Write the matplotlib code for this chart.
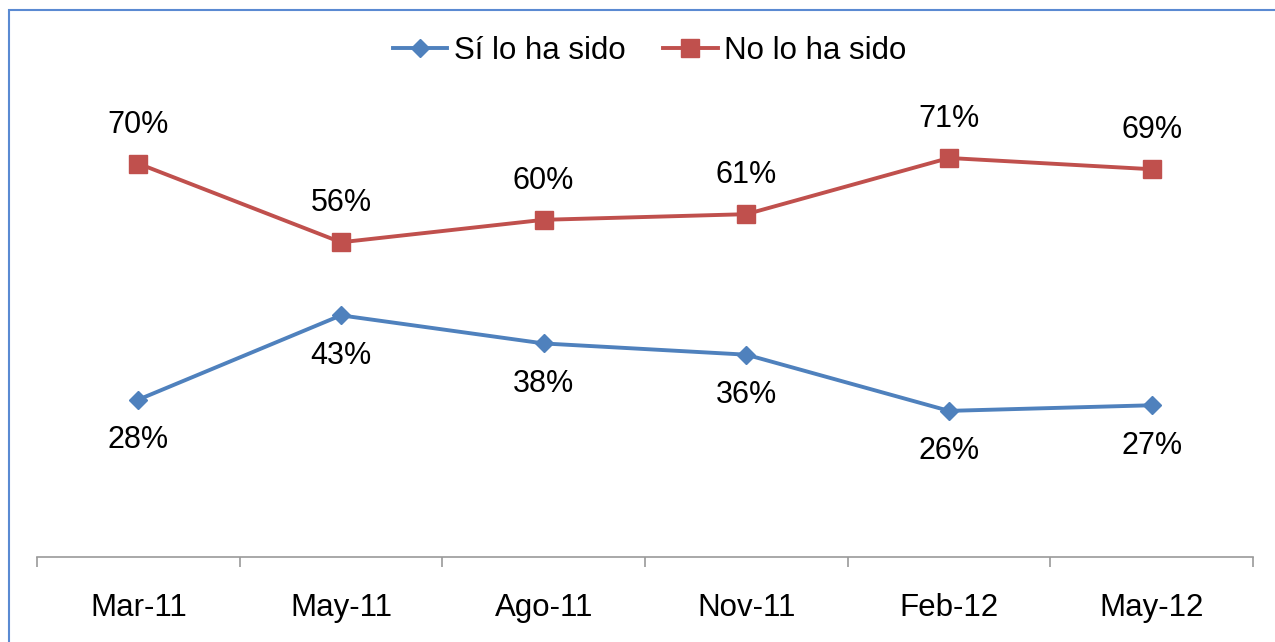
import matplotlib.pyplot as plt
from matplotlib.patches import Rectangle

plt.rcParams['font.family'] = ['Liberation Sans', 'DejaVu Sans']

periodos = ['Mar-11', 'May-11', 'Ago-11', 'Nov-11', 'Feb-12', 'May-12']
si_lo_ha_sido = [28, 43, 38, 36, 26, 27]
no_lo_ha_sido = [70, 56, 60, 61, 71, 69]

azul = '#4F81BD'
rojo = '#C0504D'

W, H = 1275, 642
fig = plt.figure(figsize=(W / 100, H / 100), dpi=100)
fig.patch.set_facecolor('white')

# blue frame around the chart (cut off at right and bottom)
fig.patches.append(Rectangle((9 / W, -0.1), 1.2, 1 - 10 / H + 0.1, transform=fig.transFigure,
                             fill=False, edgecolor='#5A8AD2', linewidth=1.5))

ax = fig.add_axes([37 / W, 85 / H, (1253 - 37) / W, (557 - 107.4) / H])
x = list(range(len(periodos)))

ax.plot(x, si_lo_ha_sido, color=azul, linewidth=2.8, marker='D', markersize=9.5,
        label='Sí lo ha sido')
ax.plot(x, no_lo_ha_sido, color=rojo, linewidth=2.8, marker='s', markersize=13,
        label='No lo ha sido')

fs = 22
for i in x:
    ax.annotate(f'{si_lo_ha_sido[i]}%', (i, si_lo_ha_sido[i]), xytext=(0, -29),
                textcoords='offset points', ha='center', va='center', fontsize=fs)
    ax.annotate(f'{no_lo_ha_sido[i]}%', (i, no_lo_ha_sido[i]), xytext=(0, 28),
                textcoords='offset points', ha='center', va='center', fontsize=fs)

ax.set_xlim(-0.5, len(periodos) - 0.5)
ax.set_ylim(0, 80)
ax.set_yticks([])
for s in ['top', 'right', 'left']:
    ax.spines[s].set_visible(False)
ax.spines['bottom'].set_color('#9A9A9A')
ax.spines['bottom'].set_linewidth(1.2)

ax.set_xticks(x)
ax.set_xticklabels(periodos, fontsize=22.5)
ax.tick_params(axis='x', length=0, pad=26)
ax.set_xticks([i - 0.5 for i in range(len(periodos) + 1)], minor=True)
ax.tick_params(axis='x', which='minor', length=7, color='#9A9A9A', width=1.2)

fig.legend(loc='center', bbox_to_anchor=(0.5 + 12 / W, 1 - 51 / H), ncol=2, frameon=False,
           fontsize=22.5, handlelength=1.75, columnspacing=1.2, handletextpad=0.2)

fig.savefig('out.png', dpi=100)
